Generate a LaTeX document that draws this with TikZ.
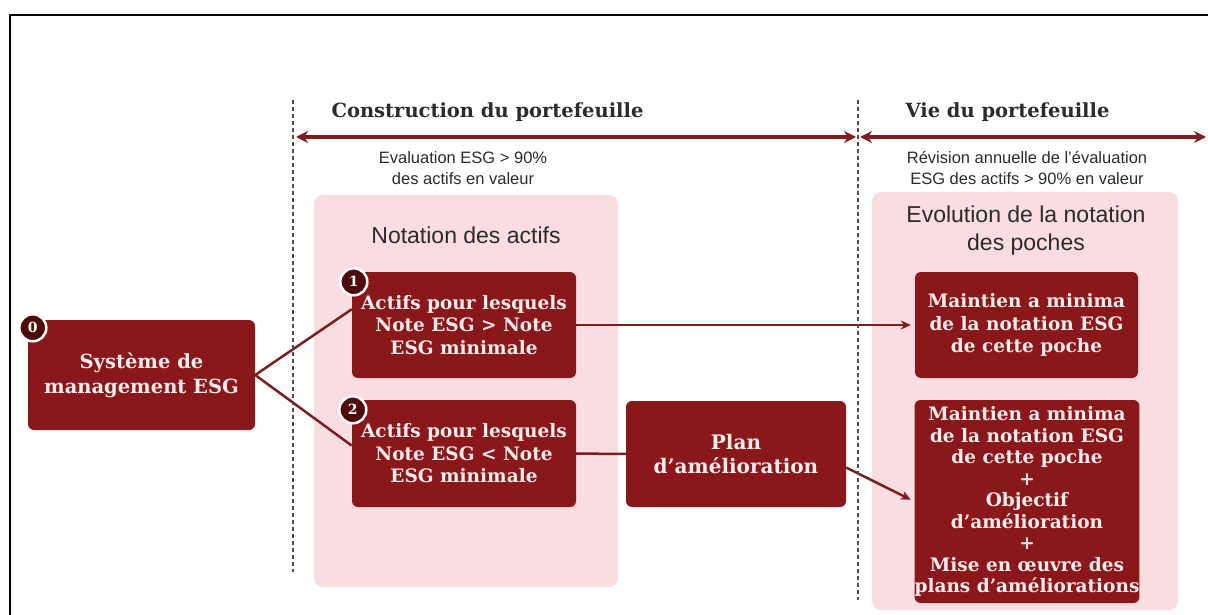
\documentclass[tikz,border=0pt]{standalone}
\usepackage{fontspec}
\setmainfont{DejaVu Serif}
\newfontfamily\descfont{Liberation Sans}
\usepackage{tikz}
\usetikzlibrary{calc,arrows.meta}
\definecolor{boxred}{HTML}{8A1719}
\definecolor{linered}{HTML}{7D1D22}
\definecolor{badgered}{HTML}{4E0B0B}
\definecolor{panelpink}{HTML}{FADDE1}
\definecolor{boxtext}{HTML}{FCEDED}
\definecolor{headtext}{HTML}{2B2B2B}

\begin{document}
\begin{tikzpicture}[x=1pt,y=-1pt,
  panel/.style={fill=panelpink, rounded corners=9pt, inner sep=0pt},
  redbox/.style={fill=boxred, rounded corners=6pt, text=boxtext, align=center, inner sep=0pt, font=\bfseries\fontsize{18.5}{22.5}\selectfont},
  badge/.style={circle, fill=badgered, draw=white, line width=2.5pt, minimum size=27pt, inner sep=0pt, text=white, font=\bfseries\fontsize{14}{14}\selectfont},
  link/.style={draw=linered, line width=2.5pt},
  tolink/.style={link, -{Stealth[length=10pt,width=9pt]}, shorten >=4pt},
  span/.style={draw=linered, line width=3.5pt, {Stealth[length=12pt,width=12pt]}-{Stealth[length=12pt,width=12pt]}},
  sep/.style={draw=gray!60!black, line width=1.4pt, dash pattern=on 4pt off 3pt},
  headline/.style={text=headtext, font=\bfseries\fontsize{19.5}{22}\selectfont, anchor=west},
  desc/.style={text=headtext, align=center, font=\descfont\fontsize{16.5}{21}\selectfont},
  paneltitle/.style={text=headtext, align=center, font=\descfont\fontsize{23}{28}\selectfont}]

\useasboundingbox (0,0) rectangle (1208,615);

% frame
\draw[line width=2pt] (10,615) -- (10,15) -- (1208,15);

% pink panels
\node[panel, minimum width=304pt, minimum height=392pt] (p1) at (466,391) {};
\node[panel, minimum width=306pt, minimum height=418pt] (p2) at (1025,401) {};
\node[paneltitle] (t1) at (466,235) {Notation des actifs};
\node[paneltitle] (t2) at (1026,231) {Evolution de la notation\\des poches};

% phases
\node[headline] (h1) at (328,112) {Construction du portefeuille};
\node[headline] (h2) at (902,112) {Vie du portefeuille};
\node[desc] (d1) at (463,168) {Evaluation ESG > 90\%\\des actifs en valeur};
\node[desc] (d2) at (1027,168) {Révision annuelle de l’évaluation\\ESG des actifs > 90\% en valeur};
\coordinate (s1) at (296,137);
\coordinate (s2) at (856,137);
\coordinate (s3) at (860,137);
\coordinate (s4) at (1206,137);
\draw[span] (s1) -- (s2);
\draw[span] (s3) -- (s4);

% boxes
\node[redbox, minimum width=227pt, minimum height=110pt, font=\bfseries\fontsize{19.5}{25}\selectfont] (b0) at (141.5,375) {Système de\\management ESG};
\node[redbox, minimum width=224pt, minimum height=106pt] (b1) at (464,325) {Actifs pour lesquels\\Note ESG > Note\\ESG minimale};
\node[redbox, minimum width=224pt, minimum height=107pt] (b2) at (464,453.5) {Actifs pour lesquels\\Note ESG < Note\\ESG minimale};
\node[redbox, minimum width=220pt, minimum height=106pt, font=\bfseries\fontsize{20}{24}\selectfont] (plan) at (736,454) {Plan\\d’amélioration};
\node[redbox, minimum width=223pt, minimum height=106pt] (r1) at (1026.5,325) {Maintien a minima\\de la notation ESG\\de cette poche};
\node[redbox, minimum width=222pt, minimum height=203pt, font=\bfseries\fontsize{18.5}{21.5}\selectfont] (r2) at (1027,501.5) {Maintien a minima\\de la notation ESG\\de cette poche\\+\\Objectif\\d’amélioration\\+\\Mise en œuvre des\\plans d’améliorations};

% badges
\node[badge] (n0) at ($(b0.north west)+(5,8)$) {0};
\node[badge] (n1) at ($(b1.north west)+(2,10)$) {1};
\node[badge] (n2) at ($(b2.north west)+(1,10)$) {2};

% connectors
\draw[link] (b0.east) -- (b1.172);
\draw[link] (b0.east) -- (b2.176);
\draw[tolink] (b1) -- (r1);
\draw[link] (b2) -- (plan);
\draw[tolink] (plan.-7) -- (r2.west);

% separators
\coordinate (v1) at (293,100);
\coordinate (v2) at (293,572);
\coordinate (v3) at (858,100);
\coordinate (v4) at (858,600);
\draw[sep] (v1) -- (v2);
\draw[sep] (v3) -- (v4);

\end{tikzpicture}
\end{document}
